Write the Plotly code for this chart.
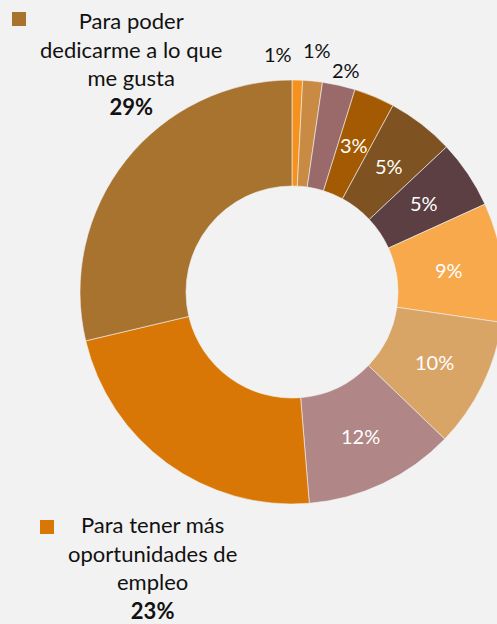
import math
import plotly.graph_objects as go

categories = ["Opción A", "Opción B", "Opción C", "Opción D", "Opción E", "Opción F",
              "Opción G", "Opción H", "Opción I",
              "Para tener más oportunidades de empleo",
              "Para poder dedicarme a lo que me gusta"]
# slice sizes (percent of total)
values = [0.8, 1.5, 2.5, 3.1, 5.1, 5.2, 9.1, 9.9, 11.5, 22.6, 28.7]
# percentages printed on the chart
shown_pct = [1, 1, 2, 3, 5, 5, 9, 10, 12, 23, 29]
colors = ["#F5921E", "#C98A44", "#9A6A6B", "#A35A02", "#7E5321", "#5B3F43",
          "#F8A94C", "#D9A566", "#B08687", "#D97706", "#A8722F"]
label_style = ["outside", "outside", "outside", "inside", "inside", "inside",
               "inside", "inside", "inside", "none", "none"]

W, H = 510, 624          # page window is 497 wide: ring is cut at the right edge
cx, cy, r = 292, 292, 212
hole = 0.5
FONT = "Lato"

fig = go.Figure(go.Pie(
    labels=categories, values=values, sort=False, direction="clockwise",
    rotation=0, hole=hole,
    marker=dict(colors=colors, line=dict(color="#F2F2F2", width=0.6)),
    textinfo="none", showlegend=False,
    domain=dict(x=[(cx - r) / W, (cx + r) / W],
                y=[(H - cy - r) / H, (H - cy + r) / H]),
))

# slice labels placed from slice mid-angles
total = sum(values)
outside_adj = {0: (26, -20), 1: (31, 1), 2: (16, 4)}   # (extra radius, x nudge)
cum = 0
for i, v in enumerate(values):
    mid = (cum + v / 2) / total * 2 * math.pi
    cum += v
    if label_style[i] == "inside":
        rr = r * (1 + hole) / 2
        fig.add_annotation(x=cx + rr * math.sin(mid), y=cy - rr * math.cos(mid),
                           xref="x", yref="y", showarrow=False, text="%d%%" % shown_pct[i],
                           font=dict(size=20, family=FONT, color="white"))
    elif label_style[i] == "outside":
        extra, dx = outside_adj[i]
        rr = r + extra
        fig.add_annotation(x=cx + rr * math.sin(mid) + dx, y=cy - rr * math.cos(mid),
                           xref="x", yref="y", showarrow=False, text="%d%%" % shown_pct[i],
                           font=dict(size=20, family=FONT, color="#111111"))

fig.add_annotation(x=131, y=63, xref="x", yref="y", showarrow=False,
                   text="Para poder<br>dedicarme a lo que<br>me gusta<br><b>%d%%</b>" % shown_pct[10],
                   font=dict(size=22, family=FONT, color="#111111"), align="center")
fig.add_annotation(x=152, y=567, xref="x", yref="y", showarrow=False,
                   text="Para tener más<br>oportunidades de<br>empleo<br><b>%d%%</b>" % shown_pct[9],
                   font=dict(size=22, family=FONT, color="#111111"), align="center")
fig.add_shape(type="rect", x0=12, x1=26, y0=12, y1=26, xref="x", yref="y",
              fillcolor=colors[10], line=dict(width=0))
fig.add_shape(type="rect", x0=40, x1=54, y0=520, y1=534, xref="x", yref="y",
              fillcolor=colors[9], line=dict(width=0))

fig.update_layout(
    width=W, height=H, margin=dict(l=0, r=0, t=0, b=0),
    paper_bgcolor="#F2F2F2", plot_bgcolor="rgba(0,0,0,0)",
    xaxis=dict(range=[0, W], visible=False, fixedrange=True),
    yaxis=dict(range=[H, 0], visible=False, fixedrange=True),
)
fig.write_html("out.html", config={"displayModeBar": False}, post_script=(
    "document.body.style.margin='0';"
    "document.body.style.overflow='hidden';"
    "document.body.style.background='#F2F2F2';"
))
